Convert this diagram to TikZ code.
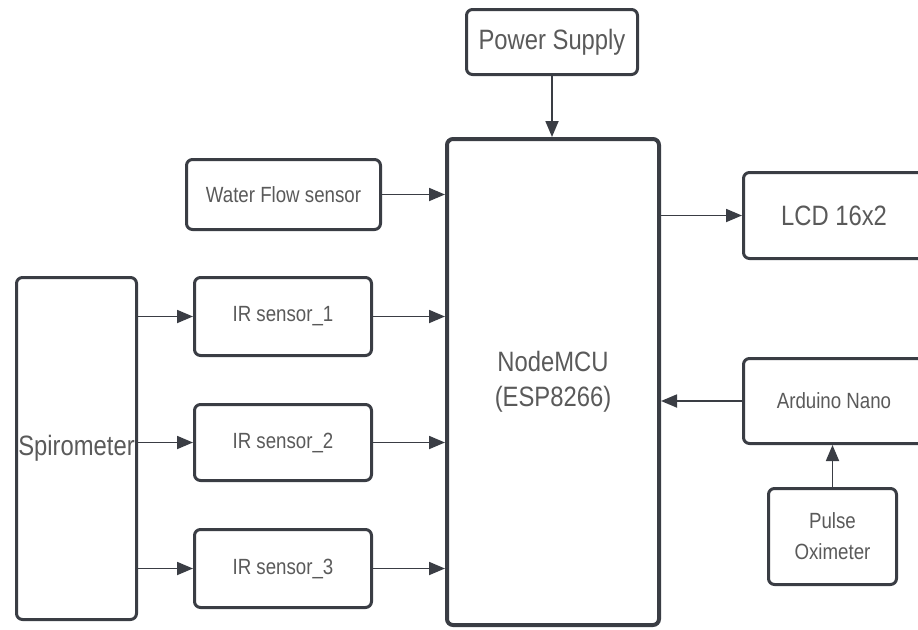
\documentclass[tikz,border=0pt]{standalone}
\usepackage{fontspec}
\setmainfont{Liberation Sans}[FakeStretch=0.85]
\usetikzlibrary{arrows.meta}
\definecolor{edgegray}{HTML}{3A3D44}
\definecolor{textgray}{HTML}{5A5A5A}

\begin{document}
\begin{tikzpicture}[x=1pt,y=-1pt,
    block/.style={draw=edgegray,line width=3pt,rounded corners=6pt,fill=white,inner sep=0pt,
        text=textgray,align=center,font=\fontsize{22}{31}\selectfont},
    bigtext/.style={font=\fontsize{28}{35}\selectfont},
    link/.style={draw=edgegray,line width=1.8pt,-{Triangle[length=16pt,width=13pt]}}]
            \useasboundingbox (0,0) rectangle (918,629);
            % blocks
            \node[block,bigtext,minimum width=171pt,minimum height=65pt] (power) at (552,42) {Power Supply};
            \node[block,bigtext,line width=4pt,minimum width=212pt,minimum height=486pt] (mcu) at (553,382) {NodeMCU\\(ESP8266)};
            \node[block,minimum width=194pt,minimum height=70pt] (water) at (283.5,194.5) {Water Flow sensor};
            \node[block,minimum width=177pt,minimum height=78pt] (ir1) at (283,316.5) {IR sensor\_1};
            \node[block,minimum width=177pt,minimum height=76pt] (ir2) at (283,442.5) {IR sensor\_2};
            \node[block,minimum width=177pt,minimum height=78pt] (ir3) at (283,568.5) {IR sensor\_3};
            \node[block,bigtext,minimum width=120pt,minimum height=342pt] (spiro) at (76.5,448.5) {Spirometer};
            \node[block,bigtext,minimum width=181pt,minimum height=86pt] (lcd) at (834,215.5) {LCD 16x2};
            \node[block,minimum width=181pt,minimum height=85pt] (nano) at (834,401) {Arduino Nano};
            \node[block,minimum width=128pt,minimum height=96pt] (pulse) at (832.5,536.5) {Pulse\\Oximeter};
            % connections
            \draw[link] (power.south) -- (power.south |- mcu.north);
            \draw[link] (water.east) -- (water.east -| mcu.west);
            \draw[link] (ir1.east) -- (ir1.east -| mcu.west);
            \draw[link] (ir2.east) -- (ir2.east -| mcu.west);
            \draw[link] (ir3.east) -- (ir3.east -| mcu.west);
            \draw[link] (ir1.west -| spiro.east) -- (ir1.west);
            \draw[link] (ir2.west -| spiro.east) -- (ir2.west);
            \draw[link] (ir3.west -| spiro.east) -- (ir3.west);
            \draw[link] (lcd.west -| mcu.east) -- (lcd.west);
            \draw[link] (nano.west) -- (nano.west -| mcu.east);
            \draw[link] (pulse.north) -- (pulse.north |- nano.south);
\end{tikzpicture}
\end{document}
